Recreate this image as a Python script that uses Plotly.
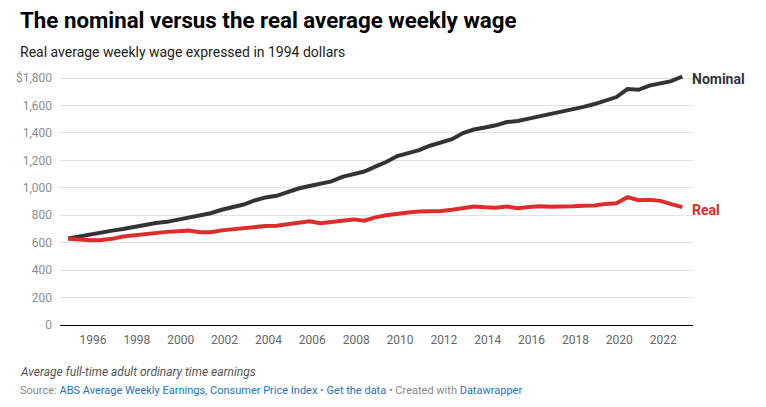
import plotly.graph_objects as go

# Semi-annual periods (May / November), Nov 1994 – Nov 2022
periods = ["1994-11-15"] + [f"{y}-{m}-15" for y in range(1995, 2023) for m in ("05", "11")]

nominal = [630, 645, 662, 675, 688, 700, 715, 730, 744, 752, 766, 780, 798, 815, 840,
           857, 878, 908, 930, 942, 968, 995, 1013, 1028, 1047, 1080, 1100, 1119, 1155,
           1188, 1232, 1253, 1275, 1307, 1331, 1355, 1400, 1425, 1440, 1456, 1480, 1487,
           1505, 1521, 1540, 1552, 1574, 1590, 1611, 1640, 1662, 1720, 1715, 1745, 1759,
           1778, 1812]

real = [628, 622, 617, 620, 628, 645, 655, 665, 673, 679, 683, 688, 676, 676, 690,
        697, 708, 718, 722, 723, 735, 752, 757, 742, 750, 765, 770, 760, 785,
        800, 813, 820, 827, 826, 832, 840, 852, 864, 858, 855, 864, 852,
        860, 866, 862, 860, 865, 869, 871, 883, 888, 932, 910, 913, 905,
        881, 859]

y_ticks = [0, 200, 400, 600, 800, 1000, 1200, 1400, 1600, 1800]
y_ticktext = ["0", "200", "400", "600", "800", "1,000", "1,200", "1,400", "1,600", "$1,800"]
x_ticks = [f"{y}-01-01" for y in range(1996, 2023, 2)]
x_ticktext = [str(y) for y in range(1996, 2023, 2)]

NOM_C = "#333333"
REAL_C = "#dd2c2c"
FONT = "Roboto"

fig = go.Figure()
fig.add_trace(go.Scatter(x=periods, y=nominal, mode="lines", name="Nominal",
                         line=dict(color=NOM_C, width=4)))
fig.add_trace(go.Scatter(x=periods, y=real, mode="lines", name="Real",
                         line=dict(color=REAL_C, width=4)))

W, H = 766, 407
YMAX = 1830
B = 82
PH_1800 = 247.0                      # pixels from 0 to 1800
PH = PH_1800 * YMAX / 1800
L, R = 60, 73
T = H - B - PH
PW = W - L - R

def px(xp):
    return (xp - L) / PW

def py(yp):
    return (H - B - yp) / PH

annotations = [
    dict(text="<b>The nominal versus the real average weekly wage</b>", x=px(18), y=py(20),
         xanchor="left", yanchor="middle", font=dict(size=22.3, color="#000000", family=FONT)),
    dict(text="Real average weekly wage expressed in 1994 dollars", x=px(18), y=py(52),
         xanchor="left", yanchor="middle", font=dict(size=14, color="#222222", family=FONT)),
    dict(text="<i>Average full-time adult ordinary time earnings</i>", x=px(18), y=py(372),
         xanchor="left", yanchor="middle", font=dict(size=12, color="#555555", family=FONT)),
    dict(text=("<span style='color:#888888'>Source: </span>"
               "<span style='color:#1f72bd'>ABS Average Weekly Earnings, Consumer Price Index</span>"
               "<span style='color:#888888'> • </span>"
               "<span style='color:#1f72bd'>Get the data</span>"
               "<span style='color:#888888'> • Created with </span>"
               "<span style='color:#1f72bd'>Datawrapper</span>"),
         x=px(18), y=py(391), xanchor="left", yanchor="middle",
         font=dict(size=11, color="#888888", family=FONT)),
    dict(text="<b>Nominal</b>", x=periods[-1], y=nominal[-1], xref="x", yref="y",
         xanchor="left", yanchor="middle", xshift=8, yshift=-3,
         font=dict(size=14, color=NOM_C, family=FONT)),
    dict(text="<b>Real</b>", x=periods[-1], y=real[-1], xref="x", yref="y",
         xanchor="left", yanchor="middle", xshift=8, yshift=-3,
         font=dict(size=14, color=REAL_C, family=FONT)),
]
for a in annotations:
    a.setdefault("xref", "paper")
    a.setdefault("yref", "paper")
    a["showarrow"] = False

fig.update_layout(
    width=W, height=H,
    margin=dict(l=L, r=R, t=T, b=B),
    paper_bgcolor="white", plot_bgcolor="white",
    showlegend=False,
    font=dict(family=FONT),
    annotations=annotations,
    xaxis=dict(type="date", range=["1994-07-01", "2023-05-12"],
               tickvals=x_ticks, ticktext=x_ticktext,
               showgrid=False, zeroline=False, showline=False, ticks="",
               tickfont=dict(size=12, color="#666666", family=FONT),
               ticklabelstandoff=6),
    yaxis=dict(range=[0, YMAX], tickvals=y_ticks, ticktext=y_ticktext,
               showgrid=True, gridcolor="#e2e2e2", gridwidth=1,
               zeroline=True, zerolinecolor="#000000", zerolinewidth=1.2,
               showline=False, ticks="",
               tickfont=dict(size=12, color="#8c8c8c", family=FONT),
               ticklabelstandoff=7),
)

fig.write_html("out.html")
